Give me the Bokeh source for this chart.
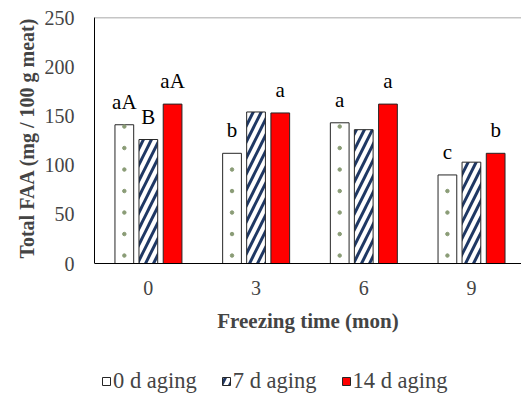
from bokeh.plotting import figure
from bokeh.models import (ColumnDataSource, Legend, LegendItem, Span, FixedTicker,
                          Range1d, LabelSet, Title)
from bokeh.embed import file_html
from bokeh.resources import INLINE

# ---- data ----
months = ["0", "3", "6", "9"]
series_names = ["0 d aging", "7 d aging", "14 d aging"]
faa_0d = [141, 112, 143, 90]
faa_7d = [126, 154, 136, 103]
faa_14d = [162, 153, 162, 112]
sig_0d = ["aA", "b", "a", "c"]
sig_7d = ["B", "", "", ""]
sig_14d = ["aA", "a", "a", "b"]
y_ticks = [0, 50, 100, 150, 200, 250]

FONT = "Liberation Serif"
OFFS = [-0.223, 0.0, 0.225]
BW = 0.174
DOT_START, DOT_STEP = 8.1, 21.85   # decorative dot-fill pattern of the 0 d bars

p = figure(width=521, height=394, output_backend="svg", toolbar_location=None,
           x_range=Range1d(-0.5, 3.465), y_range=Range1d(-133.1, 250),
           min_border_left=94, min_border_right=0, min_border_top=17,
           min_border_bottom=0)
p.outline_line_color = None
p.xgrid.grid_line_color = None
p.ygrid.grid_line_color = None

xs = list(range(len(months)))
vals = [faa_0d, faa_7d, faa_14d]
sigs = [sig_0d, sig_7d, sig_14d]
styles = [
    dict(fill_color="white"),
    dict(fill_color="white", hatch_pattern="right_diagonal_line",
         hatch_scale=16, hatch_color="#1f3864", hatch_weight=3),
    dict(fill_color="#ff0000"),
]

renderers = []
for k in range(3):
    src = ColumnDataSource(dict(x=[x + OFFS[k] for x in xs], top=vals[k]))
    r = p.vbar(x="x", top="top", width=BW, bottom=0, source=src,
               line_color="#262626", line_width=1, **styles[k])
    renderers.append(r)
    lx = [x + OFFS[k] for x, s in zip(xs, sigs[k]) if s]
    ly = [v for v, s in zip(vals[k], sigs[k]) if s]
    lt = [s for s in sigs[k] if s]
    lsrc = ColumnDataSource(dict(x=lx, y=ly, t=lt))
    p.add_layout(LabelSet(x="x", y="y", text="t", source=lsrc, y_offset=16,
                          text_align="center", text_baseline="alphabetic",
                          text_font=FONT, text_font_size="21px",
                          text_color="black"))

# dot fill of the 0 d aging bars
dx, dy = [], []
for x, v in zip(xs, faa_0d):
    yv = DOT_START
    while yv < v - 1:
        dx.append(x + OFFS[0]); dy.append(yv)
        yv += DOT_STEP
p.scatter(dx, dy, size=3.5, color="#8a9c76", marker="circle")

p.add_layout(Span(location=250, dimension="width", line_color="#8c8c8c",
                  line_width=1.5))

# axes
p.xaxis.fixed_location = 0
p.xaxis.ticker = FixedTicker(ticks=xs)
p.xaxis.major_label_overrides = {i: m for i, m in enumerate(months)}
p.xaxis.major_tick_line_color = None
p.xaxis.minor_tick_line_color = None
p.xaxis.axis_line_color = "black"
p.xaxis.major_label_standoff = 11
p.xaxis.major_label_text_font = FONT
p.xaxis.major_label_text_font_size = "20px"
p.xaxis.axis_label = "Freezing time (mon)"
p.xaxis.axis_label_text_font = FONT
p.xaxis.axis_label_text_font_size = "21px"
p.xaxis.axis_label_text_font_style = "bold"
p.xaxis.axis_label_standoff = 11

p.yaxis.ticker = FixedTicker(ticks=y_ticks)
p.yaxis.bounds = (0, 250)
p.yaxis.major_tick_line_color = None
p.yaxis.minor_tick_line_color = None
p.yaxis.axis_line_color = "black"
p.yaxis.major_label_standoff = 14
p.yaxis.major_label_text_font = FONT
p.yaxis.major_label_text_font_size = "20px"

p.add_layout(Title(text="Total FAA (mg / 100 g meat)", align="right", offset=0,
                   text_font=FONT, text_font_size="20px",
                   text_font_style="bold", standoff=8), "left")

legend = Legend(items=[LegendItem(label=n, renderers=[r])
                       for n, r in zip(series_names, renderers)],
                orientation="horizontal", location=(7, 0),
                glyph_width=10, glyph_height=10, label_standoff=2,
                spacing=24, padding=0, margin=0,
                label_text_font=FONT, label_text_font_size="22.5px",
                border_line_color=None, background_fill_alpha=0)
p.add_layout(legend)

open("out.html", "w").write(file_html(p, INLINE))
